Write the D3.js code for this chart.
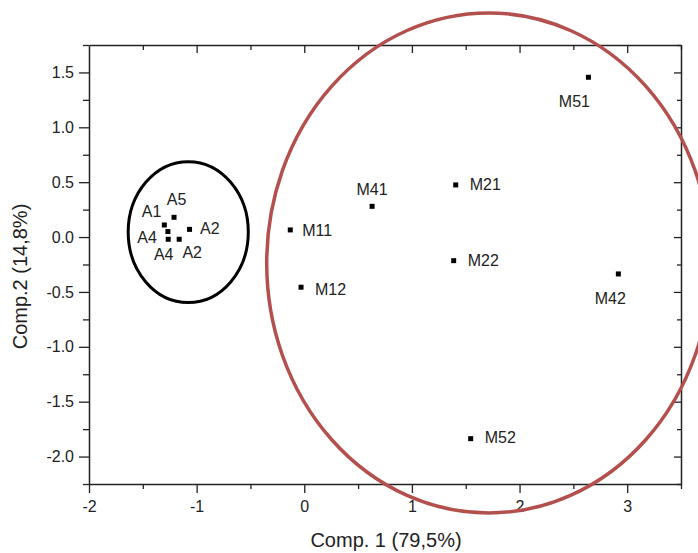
<!DOCTYPE html>
<html>
<head>
<meta charset="utf-8">
<script src="https://cdn.jsdelivr.net/npm/d3@7/dist/d3.min.js"></script>
<style>
  html, body { margin: 0; padding: 0; background: #fff; }
  svg { display: block; }
  text { font-family: "Liberation Sans", Arial, sans-serif; fill: #222; }
</style>
</head>
<body>
<div id="chart"></div>
<script>
// ---- data ----
const labels = ["A5", "A1", "A4", "A4", "A2", "A2", "M11", "M12", "M41", "M21", "M22", "M51", "M42", "M52"];
const comp1  = [-1.21, -1.30, -1.267, -1.264, -1.066, -1.162, -0.13, -0.03, 0.63, 1.407, 1.388, 2.64, 2.918, 1.546];
const comp2  = [0.18, 0.11, 0.05, -0.02, 0.07, -0.02, 0.065, -0.457, 0.28, 0.475, -0.215, 1.456, -0.336, -1.837];
const xTicks = [-2, -1, 0, 1, 2, 3];
const yTicks = [-2.0, -1.5, -1.0, -0.5, 0.0, 0.5, 1.0, 1.5];
const xTitle = "Comp. 1 (79,5%)";
const yTitle = "Comp.2 (14,8%)";
// group ellipses: [cx, cy, rx, ry] in data units
const groupA = [-1.078, 0.045, 0.558, 0.642];
const groupM = [1.714, -0.236, 2.063, 2.278];

// ---- label layout (pixel offsets from the point) ----
const labelLayout = [
  { dx: 2.5, dy: -12, anchor: "middle" }, // A5
  { dx: -3, dy: -8, anchor: "end" },      // A1
  { dx: -11, dy: 11.5, anchor: "end" },   // A4
  { dx: -4.5, dy: 21, anchor: "middle" }, // A4
  { dx: 10.5, dy: 4.5, anchor: "start" }, // A2
  { dx: 13, dy: 19, anchor: "middle" },   // A2
  { dx: 12, dy: 6, anchor: "start" },     // M11
  { dx: 14, dy: 7.5, anchor: "start" },   // M12
  { dx: 0, dy: -11, anchor: "middle" },   // M41
  { dx: 14, dy: 5, anchor: "start" },     // M21
  { dx: 14, dy: 5.5, anchor: "start" },   // M22
  { dx: -14, dy: 30, anchor: "middle" },  // M51
  { dx: -8, dy: 30, anchor: "middle" },   // M42
  { dx: 14, dy: 4.5, anchor: "start" }    // M52
];

const W = 698, H = 553;
const pLeft = 89, pRight = 681, pTop = 45, pBottom = 484;

const svg = d3.select("#chart").append("svg").attr("width", W).attr("height", H);

const x = d3.scaleLinear().domain([-2, 3.5]).range([pLeft, pRight]);
const y = d3.scaleLinear().domain([-2.25, 1.75]).range([pBottom, pTop]);

const axisColor = "#222";
const hyphen = f => (d => f(d).replace("\u2212", "-"));

function styleAxis(g) {
  g.select(".domain").attr("stroke", axisColor).attr("stroke-width", 1.5);
  g.selectAll(".tick line").attr("stroke", axisColor).attr("stroke-width", 1.3);
  g.selectAll(".tick text").style("font-family", '"Liberation Sans", Arial, sans-serif')
    .style("font-size", "16px").attr("fill", "#333");
}
function styleMinor(g) {
  g.select(".domain").remove();
  g.selectAll(".tick line").attr("stroke", axisColor).attr("stroke-width", 1.3);
}

// minor ticks
const xMinor = d3.range(-2, 3.51, 0.5).filter(v => !xTicks.includes(v));
const yMinor = d3.range(-2.25, 1.751, 0.25).filter(v => !yTicks.some(t => Math.abs(t - v) < 1e-9));

// bottom
const gb = svg.append("g").attr("transform", `translate(0,${pBottom})`)
  .call(d3.axisBottom(x).tickValues(xTicks).tickFormat(hyphen(d3.format("d"))).tickSizeInner(9).tickSizeOuter(0).tickPadding(5));
styleAxis(gb);
gb.selectAll(".tick text").attr("dy", "0.9em");
svg.append("g").attr("transform", `translate(0,${pBottom})`)
  .call(d3.axisBottom(x).tickValues(xMinor).tickFormat("").tickSizeInner(5).tickSizeOuter(0))
  .call(styleMinor);

// left
const gl = svg.append("g").attr("transform", `translate(${pLeft},0)`)
  .call(d3.axisLeft(y).tickValues(yTicks).tickFormat(hyphen(d3.format(".1f"))).tickSizeInner(10).tickSizeOuter(0).tickPadding(5));
styleAxis(gl);
svg.append("g").attr("transform", `translate(${pLeft},0)`)
  .call(d3.axisLeft(y).tickValues(yMinor).tickFormat("").tickSizeInner(6).tickSizeOuter(0))
  .call(styleMinor);

// top (inward ticks)
const gt = svg.append("g").attr("transform", `translate(0,${pTop})`)
  .call(d3.axisTop(x).tickValues(xTicks.filter(v => v > -2)).tickFormat("").tickSizeInner(-8).tickSizeOuter(0));
styleAxis(gt);
svg.append("g").attr("transform", `translate(0,${pTop})`)
  .call(d3.axisTop(x).tickValues(xMinor).tickFormat("").tickSizeInner(-5).tickSizeOuter(0))
  .call(styleMinor);

// right (inward ticks)
const gr = svg.append("g").attr("transform", `translate(${pRight},0)`)
  .call(d3.axisRight(y).tickValues(yTicks).tickFormat("").tickSizeInner(-7).tickSizeOuter(0));
styleAxis(gr);
svg.append("g").attr("transform", `translate(${pRight},0)`)
  .call(d3.axisRight(y).tickValues(yMinor).tickFormat("").tickSizeInner(-4).tickSizeOuter(0))
  .call(styleMinor);

// axis titles
svg.append("text")
  .attr("x", (x(-2) + x(3.5)) / 2 + 1).attr("y", 547)
  .attr("text-anchor", "middle")
  .style("font-size", "20px")
  .text(xTitle);

svg.append("text")
  .attr("transform", `translate(27,${(y(-2.25) + y(1.75)) / 2 + 12}) rotate(-90)`)
  .attr("text-anchor", "middle")
  .style("font-size", "20px")
  .text(yTitle);

// points
const pts = labels.map((l, i) => ({ label: l, c1: comp1[i], c2: comp2[i], lay: labelLayout[i] }));
const ms = 5;
svg.append("g").selectAll("rect").data(pts).join("rect")
  .attr("x", d => x(d.c1) - ms / 2).attr("y", d => y(d.c2) - ms / 2)
  .attr("width", ms).attr("height", ms).attr("fill", "#000");

svg.append("g").selectAll("text").data(pts).join("text")
  .attr("x", d => x(d.c1) + d.lay.dx).attr("y", d => y(d.c2) + d.lay.dy)
  .attr("text-anchor", d => d.lay.anchor)
  .style("font-size", "16px")
  .text(d => d.label);

// group ellipses
function drawEllipse(e, color, sw) {
  svg.append("ellipse")
    .attr("cx", x(e[0])).attr("cy", y(e[1]))
    .attr("rx", x(e[0] + e[2]) - x(e[0]))
    .attr("ry", y(e[1] - e[3]) - y(e[1]))
    .attr("fill", "none").attr("stroke", color).attr("stroke-width", sw);
}
drawEllipse(groupA, "#000", 3);
drawEllipse(groupM, "#b3504e", 3.5);
</script>
</body>
</html>
